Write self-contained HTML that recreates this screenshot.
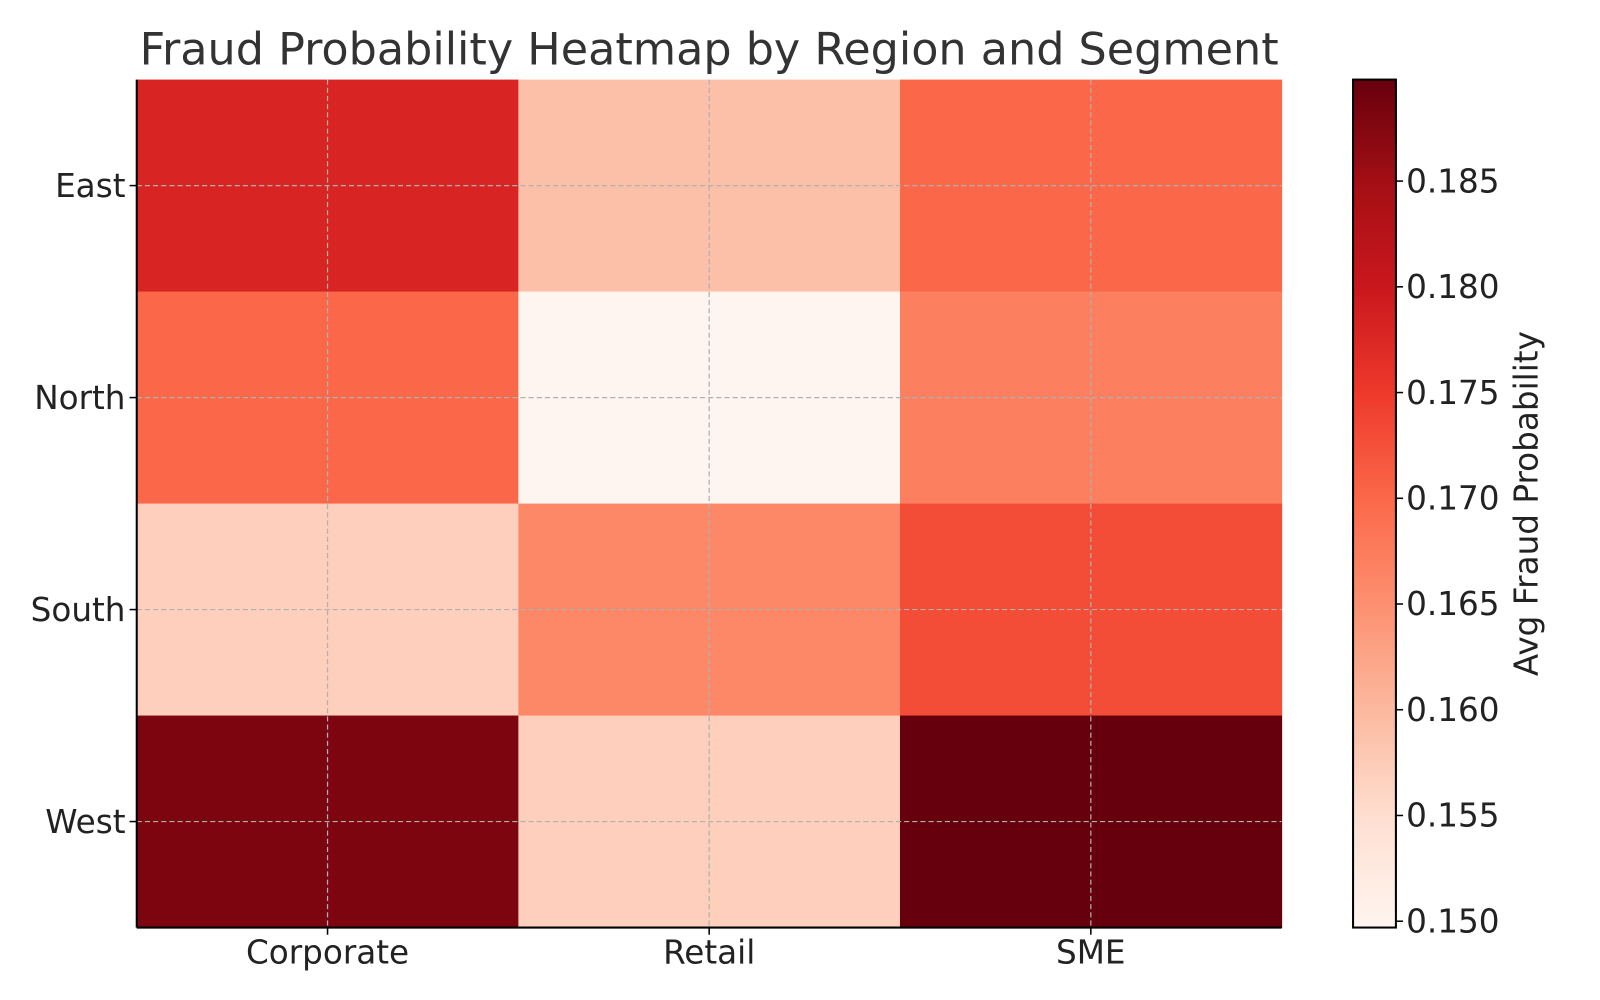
<!DOCTYPE html>
<html><head><meta charset="utf-8">
<style>
html,body{margin:0;padding:0;background:#fff;}
svg{display:block;font-family:"DejaVu Sans","Liberation Sans",sans-serif;}
</style></head>
<body>
<svg id="chart" width="1600" height="1000" viewBox="0 0 1568 980">
<defs>
<linearGradient id="cbgrad" x1="0" y1="1" x2="0" y2="0">
<stop offset="0" stop-color="#fff5f0"/><stop offset="0.125" stop-color="#fee0d2"/>
<stop offset="0.25" stop-color="#fcbba1"/><stop offset="0.375" stop-color="#fc9272"/>
<stop offset="0.5" stop-color="#fb6a4a"/><stop offset="0.625" stop-color="#ef3b2c"/>
<stop offset="0.75" stop-color="#cb181d"/><stop offset="0.875" stop-color="#a50f15"/>
<stop offset="1" stop-color="#67000d"/>
</linearGradient>
</defs>
<text x="695" y="63" text-anchor="middle" font-size="43.6" fill="#333">Fraud Probability Heatmap by Region and Segment</text>
<g id="cells"></g>
<g id="grid"></g>
<g id="axes"></g>
<g id="colorbar"></g>
</svg>
<script>
const segments = ["Corporate","Retail","SME"];
const regions = ["East","North","South","West"];
const values = [
  [0.178,0.159,0.170],
  [0.170,0.1497,0.167],
  [0.157,0.166,0.173],
  [0.188,0.157,0.1898]
];
const cbTicks = [0.150,0.155,0.160,0.165,0.170,0.175,0.180,0.185];
const cbLabels = ["0.150","0.155","0.160","0.165","0.170","0.175","0.180","0.185"];

const NS="http://www.w3.org/2000/svg";
const X0=134,X1=1256,Y0=78,Y1=909;
const flat=values.flat();
const vmin=Math.min(...flat), vmax=Math.max(...flat);
const reds=["#fff5f0","#fee0d2","#fcbba1","#fc9272","#fb6a4a","#ef3b2c","#cb181d","#a50f15","#67000d"].map(h=>[1,3,5].map(i=>parseInt(h.substr(i,2),16)));
function cmap(v){let t=(v-vmin)/(vmax-vmin);t=Math.max(0,Math.min(1,t))*(reds.length-1);const i=Math.min(Math.floor(t),reds.length-2),f=t-i;const c=reds[i].map((a,k)=>Math.round(a+(reds[i+1][k]-a)*f));return `rgb(${c})`;}
const cw=(X1-X0)/segments.length, rh=(Y1-Y0)/regions.length;
const xc=j=>X0+cw*(j+0.5), yc=i=>Y0+rh*(i+0.5);
function mk(tag,attrs,parent,text){const e=document.createElementNS(NS,tag);for(const k in attrs)e.setAttribute(k,attrs[k]);if(text!=null)e.textContent=text;document.getElementById(parent).appendChild(e);return e;}
regions.forEach((r,i)=>segments.forEach((s,j)=>{
  const e=mk("rect",{x:X0+cw*j,y:Y0+rh*i,width:cw+0.5,height:rh+0.5,fill:cmap(values[i][j])},"cells");
  
  
}));
segments.forEach((s,j)=>{
  const g=mk("line",{x1:xc(j),x2:xc(j),y1:Y0,y2:Y1,stroke:"#b0b0b0","stroke-width":1.2,"stroke-dasharray":"5,3"},"grid");
  
  
  mk("line",{x1:xc(j),x2:xc(j),y1:Y1,y2:Y1+7,stroke:"#000","stroke-width":1.5},"axes");
  const t=mk("text",{x:xc(j),y:Y1+35,"text-anchor":"middle","font-size":32,fill:"#222"},"axes",s);
  
  
});
regions.forEach((r,i)=>{
  const g=mk("line",{x1:X0,x2:X1,y1:yc(i),y2:yc(i),stroke:"#b0b0b0","stroke-width":1.2,"stroke-dasharray":"5,3"},"grid");
  
  
  mk("line",{x1:X0-7,x2:X0,y1:yc(i),y2:yc(i),stroke:"#000","stroke-width":1.5},"axes");
  const t=mk("text",{x:X0-11,y:yc(i)+11,"text-anchor":"end","font-size":32,fill:"#222"},"axes",r);
  
  
});
mk("line",{x1:X0,x2:X0,y1:Y0,y2:Y1,stroke:"#000","stroke-width":2},"axes");
mk("line",{x1:X0,x2:X1,y1:Y1,y2:Y1,stroke:"#000","stroke-width":2},"axes");
const CX0=1326,CX1=1368;
const cb=mk("rect",{x:CX0,y:Y0,width:CX1-CX0,height:Y1-Y0,fill:"url(#cbgrad)",stroke:"#000","stroke-width":2},"colorbar");


const cy=v=>Y1-(v-vmin)/(vmax-vmin)*(Y1-Y0);
cbTicks.forEach((v,k)=>{
  mk("line",{x1:CX1,x2:CX1+7,y1:cy(v),y2:cy(v),stroke:"#000","stroke-width":1.5},"colorbar");
  const t=mk("text",{x:CX1+10,y:cy(v)+11,"font-size":32,fill:"#222"},"colorbar",cbLabels[k]);
  
  
});
const lab=mk("text",{x:1507,y:(Y0+Y1)/2,"text-anchor":"middle","font-size":32,fill:"#222",transform:`rotate(-90 1507 ${(Y0+Y1)/2})`},"colorbar","Avg Fraud Probability");


</script>
</body></html>
